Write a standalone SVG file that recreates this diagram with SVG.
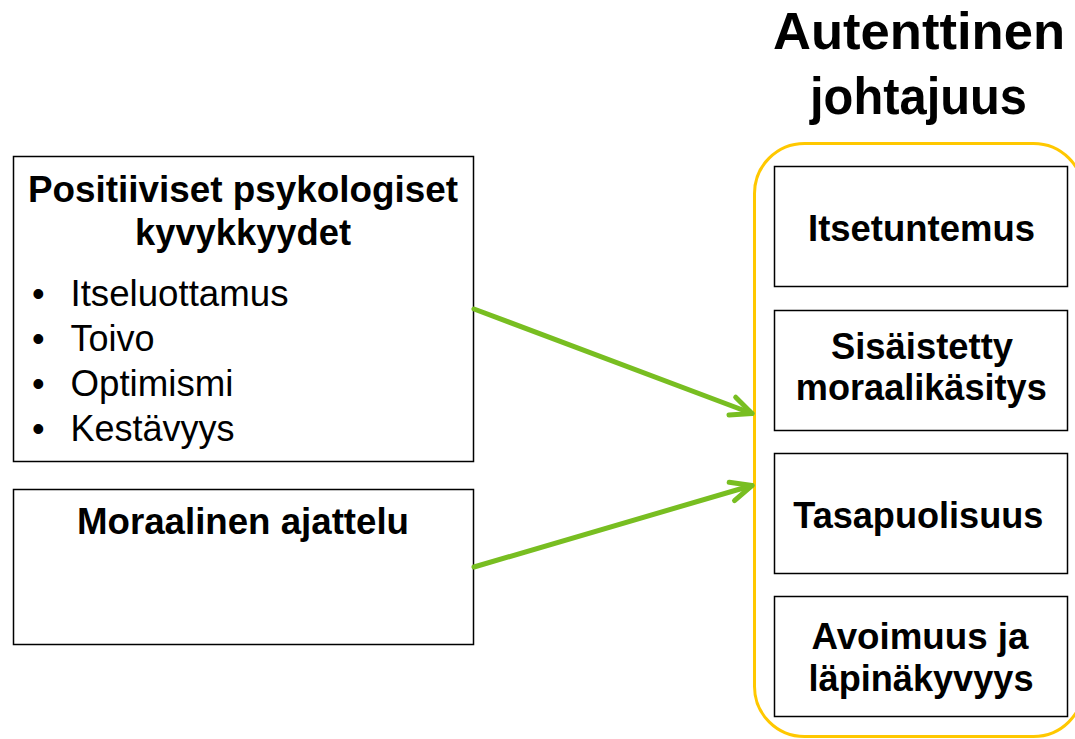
<svg xmlns="http://www.w3.org/2000/svg" width="1075" height="739" viewBox="0 0 1075 739">
  <style>
    .box { fill: #FFFFFF; stroke: #000000; stroke-width: 1.5; }
    .b { font-family: "Liberation Sans", Arial, sans-serif; font-weight: bold; font-size: 36px; fill: #000; text-anchor: middle; }
    .r { font-family: "Liberation Sans", Arial, sans-serif; font-size: 36px; fill: #000; }
    .title { font-family: "Liberation Sans", Arial, sans-serif; font-weight: bold; font-size: 52px; fill: #000; text-anchor: middle; }
    .conn { stroke: #78BE21; stroke-width: 5; fill: none; stroke-linecap: round; }
  </style>
  <defs>
    <marker id="chev" markerUnits="userSpaceOnUse" orient="auto" refX="0" refY="0" markerWidth="40" markerHeight="40" viewBox="-30 -15 40 30" overflow="visible">
      <path d="M-21,-9.5 L0,0 L-21,9.5" fill="none" stroke="#78BE21" stroke-width="5" stroke-linecap="round" stroke-linejoin="round"/>
    </marker>
  </defs>
  <rect width="1075" height="739" fill="#FFFFFF"/>

  <g id="title">
    <text class="title" x="919" y="49" textLength="292" lengthAdjust="spacingAndGlyphs">Autenttinen</text>
    <text class="title" x="918.5" y="114" textLength="217" lengthAdjust="spacingAndGlyphs">johtajuus</text>
  </g>

  <g id="group-autenttinen">
    <rect x="754.5" y="143.5" width="329" height="593" rx="50" ry="50" fill="none" stroke="#FFC800" stroke-width="3"/>
  </g>

  <g id="node-positiiviset">
    <rect class="box" x="13.5" y="156.5" width="460" height="305"/>
    <text class="b" x="243" y="202" textLength="430" lengthAdjust="spacingAndGlyphs">Positiiviset psykologiset</text>
    <text class="b" x="243" y="245" textLength="216" lengthAdjust="spacingAndGlyphs">kyvykkyydet</text>
    <text class="r" x="32" y="306">•</text>
    <text class="r" x="70.5" y="306" textLength="218" lengthAdjust="spacingAndGlyphs">Itseluottamus</text>
    <text class="r" x="32" y="351">•</text>
    <text class="r" x="70.5" y="351" textLength="84" lengthAdjust="spacingAndGlyphs">Toivo</text>
    <text class="r" x="32" y="396">•</text>
    <text class="r" x="70.5" y="396" textLength="163" lengthAdjust="spacingAndGlyphs">Optimismi</text>
    <text class="r" x="32" y="441">•</text>
    <text class="r" x="70.5" y="441" textLength="164" lengthAdjust="spacingAndGlyphs">Kestävyys</text>
  </g>

  <g id="node-moraalinen">
    <rect class="box" x="13.5" y="489.5" width="460" height="155"/>
    <text class="b" x="243" y="534" textLength="332" lengthAdjust="spacingAndGlyphs">Moraalinen ajattelu</text>
  </g>

  <g id="node-itsetuntemus">
    <rect class="box" x="774.5" y="166.5" width="293" height="120"/>
    <text class="b" x="921.5" y="241" textLength="227" lengthAdjust="spacingAndGlyphs">Itsetuntemus</text>
  </g>

  <g id="node-sisaistetty">
    <rect class="box" x="774.5" y="310.5" width="293" height="120"/>
    <text class="b" x="922" y="359" textLength="182" lengthAdjust="spacingAndGlyphs">Sisäistetty</text>
    <text class="b" x="921.3" y="400" textLength="251" lengthAdjust="spacingAndGlyphs">moraalikäsitys</text>
  </g>

  <g id="node-tasapuolisuus">
    <rect class="box" x="774.5" y="453.5" width="293" height="120"/>
    <text class="b" x="918.3" y="528" textLength="250" lengthAdjust="spacingAndGlyphs">Tasapuolisuus</text>
  </g>

  <g id="node-avoimuus">
    <rect class="box" x="774.5" y="596.5" width="293" height="120"/>
    <text class="b" x="920" y="649" textLength="217" lengthAdjust="spacingAndGlyphs">Avoimuus ja</text>
    <text class="b" x="921" y="691" textLength="225" lengthAdjust="spacingAndGlyphs">läpinäkyvyys</text>
  </g>

  <g id="connectors">
    <line class="conn" x1="474" y1="309" x2="752" y2="413.5" marker-end="url(#chev)"/>
    <line class="conn" x1="474" y1="567" x2="752" y2="485.5" marker-end="url(#chev)"/>
  </g>
</svg>
